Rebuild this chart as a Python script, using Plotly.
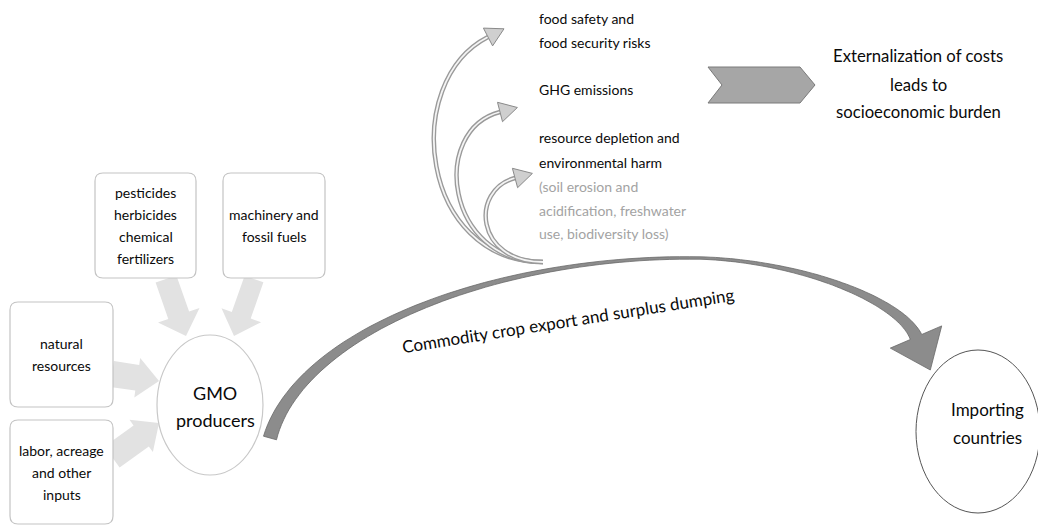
import numpy as np
import plotly.graph_objects as go

# ---------------- content ----------------
input_labels = [
    ["pesticides", "herbicides", "chemical", "fertilizers"],
    ["machinery and", "fossil fuels"],
    ["natural", "resources"],
    ["labor, acreage", "and other", "inputs"],
]
producer_label = ["GMO", "producers"]
importer_label = ["Importing", "countries"]
flow_label = "Commodity crop export and surplus dumping"
risk_lines = ["food safety and", "food security risks", "GHG emissions",
              "resource depletion and", "environmental harm"]
detail_lines = ["(soil erosion and", "acidification, freshwater", "use, biodiversity loss)"]
outcome_lines = ["Externalization of costs", "leads to", "socioeconomic burden"]

W, H = 1038, 525
FONT = "Lato"
shapes, annotations = [], []


def txt(s, x, y, size=14, color="#0a0a0a", anchor="center", angle=0):
    annotations.append(dict(text=s, x=x, y=y, xref="x", yref="y", showarrow=False,
                            xanchor=anchor, yanchor="middle", textangle=angle,
                            font=dict(family=FONT, size=size, color=color)))


def poly(pts, fill, line="rgba(0,0,0,0)", lw=0):
    p = "M " + " L ".join(f"{x:.1f},{y:.1f}" for x, y in pts) + " Z"
    shapes.append(dict(type="path", path=p, xref="x", yref="y", fillcolor=fill,
                       line=dict(color=line, width=lw), layer="above"))


def rrect(x0, y0, x1, y1, r=8, line="#c4c4c4"):
    p = (f"M {x0+r},{y0} L {x1-r},{y0} Q {x1},{y0} {x1},{y0+r} L {x1},{y1-r} "
         f"Q {x1},{y1} {x1-r},{y1} L {x0+r},{y1} Q {x0},{y1} {x0},{y1-r} "
         f"L {x0},{y0+r} Q {x0},{y0} {x0+r},{y0} Z")
    shapes.append(dict(type="path", path=p, xref="x", yref="y", fillcolor="white",
                       line=dict(color=line, width=1.2), layer="above"))


def block_arrow(s, t, a, b, L, fill="#e2e2e2"):
    s, t = np.array(s, float), np.array(t, float)
    d = (t - s) / np.linalg.norm(t - s)
    n = np.array([-d[1], d[0]])
    base = t - d * L
    pts = [s + n * a, base + n * a, base + n * b, t, base - n * b, base - n * a, s - n * a]
    poly(pts, fill)


def bez(P, t):
    P = np.array(P, float)
    t = np.asarray(t)[:, None]
    return ((1 - t) ** 3) * P[0] + 3 * ((1 - t) ** 2) * t * P[1] + 3 * (1 - t) * t ** 2 * P[2] + t ** 3 * P[3]


def bez_d(P, t):
    P = np.array(P, float)
    t = np.asarray(t)[:, None]
    return 3 * ((1 - t) ** 2) * (P[1] - P[0]) + 6 * (1 - t) * t * (P[2] - P[1]) + 3 * t ** 2 * (P[3] - P[2])


# ---------------- light input arrows ----------------
block_arrow((166, 279), (186, 336), 11, 22, 22)
block_arrow((254, 279), (234, 336), 10, 21, 22)
block_arrow((112, 374), (159, 381), 13, 20, 22)
block_arrow((112, 457), (159, 423), 13, 20, 22)

# ---------------- input boxes ----------------
boxes = [(95, 173, 196, 278), (223, 173, 325, 278), (10, 302, 113, 407), (10, 420, 113, 524)]
line_sp = 22
for (x0, y0, x1, y1), lines in zip(boxes, input_labels):
    rrect(x0, y0, x1, y1)
    cx, cy = (x0 + x1) / 2, (y0 + y1) / 2
    y_start = cy - line_sp * (len(lines) - 1) / 2
    for i, s in enumerate(lines):
        txt(s, cx, y_start + i * line_sp, size=14)

# ---------------- GMO producers circle ----------------
shapes.append(dict(type="circle", x0=157, x1=263, y0=335, y1=475, xref="x", yref="y",
                   fillcolor="white", line=dict(color="#c8c8c8", width=1.2), layer="above"))
txt(producer_label[0], 215, 393, size=18)
txt(producer_label[1], 215, 420, size=18)

# ---------------- big export arrow ----------------
seg1 = [(270, 438), (300, 330), (500, 255), (700, 258)]
seg2 = [(700, 258), (800, 261), (900, 300), (916, 337)]
t = np.linspace(0, 1, 60)
c1, d1 = bez(seg1, t), bez_d(seg1, t)
c2, d2 = bez(seg2, t[1:]), bez_d(seg2, t[1:])
w1 = 2.5 + 11.0 * (1 - t) ** 1.6
w2 = 2.5 + 10.0 * t[1:] ** 1.6
C = np.vstack([c1, c2]); D = np.vstack([d1, d2]); Wd = np.concatenate([w1, w2])
Nrm = np.stack([-D[:, 1], D[:, 0]], axis=1)
Nrm /= np.linalg.norm(Nrm, axis=1, keepdims=True)
sideA = C + Nrm * Wd[:, None] / 2
sideB = C - Nrm * Wd[:, None] / 2
E = C[-1]
dE = D[-1] / np.linalg.norm(D[-1])
nE = Nrm[-1]
tip = E + dE * 36
head = [E + nE * 28, tip, E - nE * 28]
pts = list(sideA) + head + list(sideB[::-1])
poly(pts, "#8c8c8c", "#6a6a6a", 0.8)

txt(flow_label, 568, 320, size=17, angle=-9)

# ---------------- small upward arrows ----------------
curves = [
    [(543, 262), (420, 262), (400, 82), (488, 37)],
    [(543, 262), (445, 262), (430, 130), (500, 112)],
    [(543, 262), (475, 262), (470, 190), (515, 178)],
]
for P in curves:
    p = f"M {P[0][0]},{P[0][1]} C {P[1][0]},{P[1][1]} {P[2][0]},{P[2][1]} {P[3][0]},{P[3][1]}"
    shapes.append(dict(type="path", path=p, xref="x", yref="y",
                       line=dict(color="#9a9a9a", width=4.5), layer="above"))
    shapes.append(dict(type="path", path=p, xref="x", yref="y",
                       line=dict(color="#f4f4f4", width=1.8), layer="above"))
for P in curves:
    P3 = np.array(P[3], float); P2 = np.array(P[2], float)
    d = (P3 - P2) / np.linalg.norm(P3 - P2)
    n = np.array([-d[1], d[0]])
    poly([P3 + n * 10, P3 + d * 18, P3 - n * 10], "#cfcfcf", "#8a8a8a", 1)

# ---------------- risk texts ----------------
for s, y in zip(risk_lines, [18, 42, 89, 137, 162]):
    txt(s, 537, y, size=14, anchor="left")
for s, y in zip(detail_lines, [186, 210, 233]):
    txt(s, 537, y, size=14, anchor="left", color="#a3a3a3")

# ---------------- chevron + outcome ----------------
poly([(708, 67), (800, 67), (815, 85), (800, 103), (708, 103), (722, 85)],
     "#a6a6a6", "#7a7a7a", 1)
for s, y in zip(outcome_lines, [56, 85, 112]):
    txt(s, 918, y, size=16.7)

# ---------------- importing countries ----------------
shapes.append(dict(type="circle", x0=916, x1=1040, y0=350, y1=513, xref="x", yref="y",
                   fillcolor="white", line=dict(color="#555555", width=1), layer="above"))
txt(importer_label[0], 987, 409, size=17)
txt(importer_label[1], 987, 437, size=17)

fig = go.Figure()
fig.update_layout(
    width=W, height=H, autosize=False,
    margin=dict(l=0, r=0, t=0, b=0),
    paper_bgcolor="white", plot_bgcolor="white",
    xaxis=dict(range=[0, W], visible=False, fixedrange=True),
    yaxis=dict(range=[H, 0], visible=False, fixedrange=True),
    shapes=shapes, annotations=annotations, showlegend=False,
)
fig.write_html("out.html", config={"displayModeBar": False},
               post_script="document.body.style.margin='0';document.body.style.overflow='hidden';")
